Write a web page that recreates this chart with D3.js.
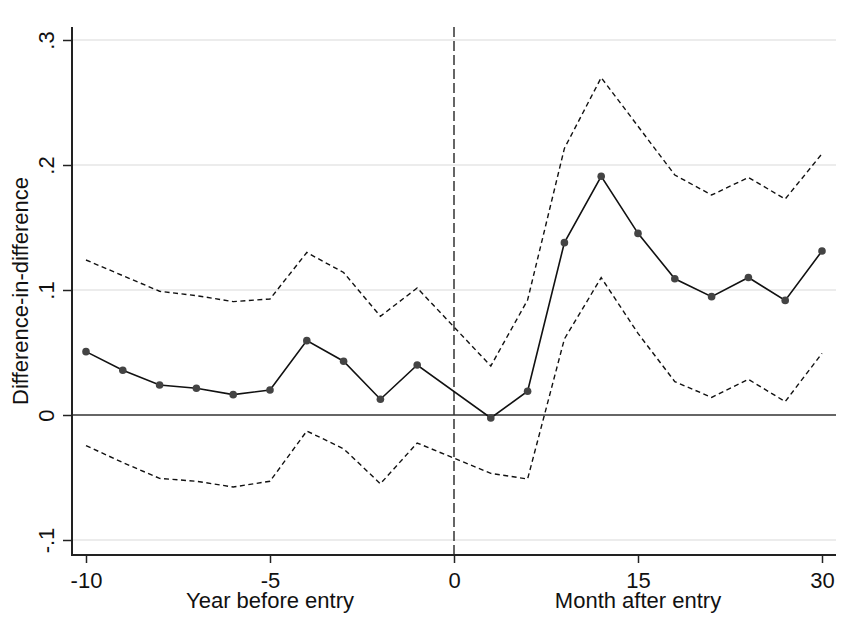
<!DOCTYPE html>
<html><head><meta charset="utf-8">
<script src="https://cdn.jsdelivr.net/npm/d3@7"></script>
<style>body{margin:0;background:#fff}svg{display:block}text{font-family:"Liberation Sans",Arial,sans-serif;fill:#111}</style>
</head><body><svg id="c" width="845" height="636"></svg>
<script>
// Periods: years before entry, then months after entry
const periods = ["-10","-9","-8","-7","-6","-5","-4","-3","-2","-1","3","6","9","12","15","18","21","24","27","30"];
const position = [-10,-9,-8,-7,-6,-5,-4,-3,-2,-1,1,2,3,4,5,6,7,8,9,10];
const estimate = [0.0507,0.0358,0.024,0.0214,0.0163,0.020,0.0595,0.043,0.0126,0.040,-0.0024,0.019,0.1379,0.191,0.1453,0.109,0.0947,0.110,0.0917,0.1312];
const upper = [0.124,0.1115,0.099,0.0955,0.0907,0.0928,0.130,0.114,0.079,0.1016,0.0392,0.092,0.2133,0.2699,0.231,0.192,0.176,0.190,0.1728,0.209];
const lower = [-0.0245,-0.038,-0.0507,-0.053,-0.0576,-0.053,-0.0128,-0.027,-0.055,-0.0224,-0.0467,-0.0512,0.0608,0.1099,0.0653,0.0267,0.0141,0.0285,0.0107,0.0493];
const xTickPos = [-10,-5,0,5,10];
const xTickLabels = ["-10","-5","0","15","30"];
const yTicks = [-0.1,0,0.1,0.2,0.3];
const yTickLabels = ["-.1","0",".1",".2",".3"];

(function(){
const svg = d3.select("#c");
const x = d3.scaleLinear().domain([-10,10]).range([86,822]);
const y = d3.scaleLinear().domain([-0.1,0.3]).range([540,40]);
const pL = 72, pR = 836, pT = 27, pB = 555;
const fs = "22px";

// gridlines
svg.append("g").selectAll("line").data(yTicks.filter(d=>d!==0)).join("line")
  .attr("x1",pL).attr("x2",pR).attr("y1",d=>y(d)).attr("y2",d=>y(d))
  .attr("stroke","#e6e6e6").attr("stroke-width",1.5);

// zero line
svg.append("line").attr("x1",pL).attr("x2",pR).attr("y1",y(0)).attr("y2",y(0))
  .attr("stroke","#333").attr("stroke-width",1.5);

// vertical dashed line at entry
svg.append("line").attr("x1",x(0)).attr("x2",x(0)).attr("y1",pT).attr("y2",pB)
  .attr("stroke","#333").attr("stroke-width",1.5).attr("stroke-dasharray","10,4");

const data = periods.map((p,i)=>({p, xi:position[i], est:estimate[i], hi:upper[i], lo:lower[i]}));

const mkLine = key => d3.line().x(d=>x(d.xi)).y(d=>y(d[key]));
["hi","lo"].forEach(k=>{
  svg.append("path").datum(data).attr("d",mkLine(k)).attr("fill","none")
    .attr("stroke","#111").attr("stroke-width",1.4).attr("stroke-dasharray","5,3.5");
});
svg.append("path").datum(data).attr("d",mkLine("est")).attr("fill","none")
  .attr("stroke","#111").attr("stroke-width",1.6);
svg.append("g").selectAll("circle").data(data).join("circle")
  .attr("cx",d=>x(d.xi)).attr("cy",d=>y(d.est)).attr("r",3.8).attr("fill","#444");

// axes
const yAxis = d3.axisLeft(y).tickValues(yTicks).tickFormat((d,i)=>yTickLabels[i]).tickSize(9).tickSizeOuter(0);
const gy = svg.append("g").attr("transform",`translate(${pL},0)`).call(yAxis);
gy.select(".domain").remove();
gy.selectAll(".tick line").attr("stroke","#222").attr("stroke-width",1.5);
gy.selectAll(".tick text").attr("transform","rotate(-90)").attr("x",0).attr("y",-18)
  .attr("dy",0).attr("text-anchor","middle").style("font-size",fs);
svg.append("line").attr("x1",pL).attr("x2",pL).attr("y1",pT).attr("y2",pB+1)
  .attr("stroke","#222").attr("stroke-width",2);

const xAxis = d3.axisBottom(x).tickValues(xTickPos).tickFormat((d,i)=>xTickLabels[i]).tickSize(8).tickSizeOuter(0);
const gx = svg.append("g").attr("transform",`translate(0,${pB})`).call(xAxis);
gx.select(".domain").remove();
gx.selectAll(".tick line").attr("stroke","#222").attr("stroke-width",1.5);
gx.selectAll(".tick text").attr("y",17).attr("dy","0.71em").style("font-size",fs);
svg.append("line").attr("x1",pL-1).attr("x2",pR).attr("y1",pB).attr("y2",pB)
  .attr("stroke","#222").attr("stroke-width",2);

// axis titles
svg.append("text").attr("x",x(-5)).attr("y",608).attr("text-anchor","middle").style("font-size",fs).text("Year before entry");
svg.append("text").attr("x",x(5)).attr("y",608).attr("text-anchor","middle").style("font-size",fs).text("Month after entry");
svg.append("text").attr("transform",`translate(28,${(pT+pB)/2}) rotate(-90)`).attr("text-anchor","middle")
  .style("font-size",fs).text("Difference-in-difference");
})();
</script></body></html>
